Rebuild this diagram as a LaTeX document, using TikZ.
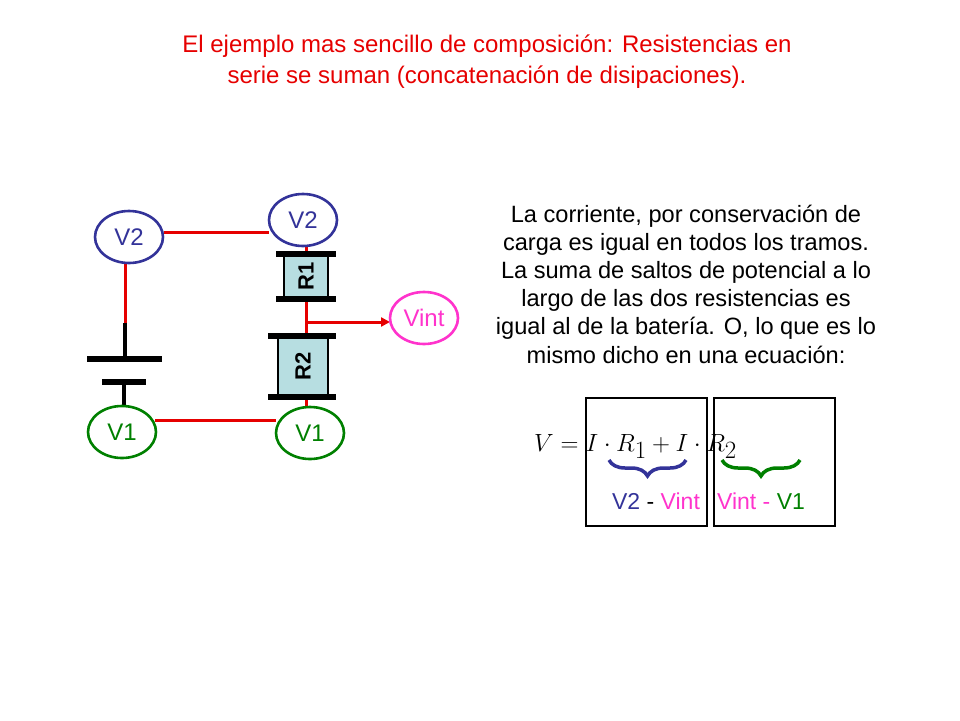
\documentclass[tikz,border=0pt]{standalone}
\usepackage{fontspec}
\setmainfont{Liberation Sans}
\usepackage{amsmath}
\usetikzlibrary{decorations.pathreplacing,arrows.meta,shapes.geometric}
\definecolor{tred}{RGB}{230,0,0}
\definecolor{vblue}{RGB}{51,51,153}
\definecolor{vgreen}{RGB}{0,128,0}
\definecolor{vmag}{RGB}{255,51,204}
\definecolor{rfill}{RGB}{183,222,225}
\begin{document}
\begin{tikzpicture}[x=1pt,y=-1pt,
  vnode/.style={ellipse,draw,line width=2.6pt,minimum width=68pt,minimum height=52pt,inner sep=0pt,font=\fontsize{24}{24}\selectfont},
  wire/.style={draw=tred,line width=3pt},
  plate/.style={line width=6pt},
  res/.style={draw=black,fill=rfill,line width=1.2pt,inner sep=0pt},
  brc/.style={decorate,decoration={brace,mirror,amplitude=16pt},line width=3.5pt}]
\useasboundingbox (0,0) rectangle (960,720);
\node[text=tred,align=center,font=\fontsize{24}{31}\selectfont] (title) at (487,62) {El ejemplo mas sencillo de composición: Resistencias en\\serie se suman (concatenación de disipaciones).};
\node[align=center,font=\fontsize{23.6}{28.2}\selectfont] (txt) at (686,284) {La corriente, por conservación de\\carga es igual en todos los tramos.\\La suma de saltos de potencial a lo\\largo de las dos resistencias es\\igual al de la batería. O, lo que es lo\\mismo dicho en una ecuación:};
% wires
\draw[wire] (164,232) coordinate (w1) -- (269,232) coordinate (w2);
\draw[wire] (125,263) coordinate (w3) -- (125,323) coordinate (w4);
\draw[line width=4.5pt] (w4) -- (125,359) coordinate (bat1);
\draw[plate] (87,359) -- (162,359);
\draw[plate] (102,382) coordinate (bat2) -- (146,382);
\draw[line width=4.5pt] (124,382) -- (124,406);
\draw[wire] (155,420) -- (276,420);
\draw[wire] (306,245) -- (306,254);
\draw[wire] (306,299) -- (306,336);
\draw[wire,-{Triangle[length=9pt,width=9pt]}] (306,322) -- (390,322);
\draw[wire] (306,397) -- (306,408);
% resistors
\node[res,minimum width=44pt,minimum height=45pt] (r1) at (306,276.5) {};
\node[rotate=90,font=\bfseries\fontsize{22}{22}\selectfont] at (r1) {R1};
\draw[plate] (276,254) -- (336,254);
\draw[plate] (276,299) -- (336,299);
\node[res,minimum width=50pt,minimum height=61pt] (r2) at (303,366.5) {};
\node[rotate=90,font=\bfseries\fontsize{22}{22}\selectfont] at (r2) {R2};
\draw[plate] (268,336) -- (336,336);
\draw[plate] (268,397) -- (336,397);
% voltage nodes
\node[vnode,draw=vblue,text=vblue,fill=white] (v2a) at (129,237) {V2};
\node[vnode,draw=vblue,text=vblue,fill=white] (v2b) at (303,220) {V2};
\node[vnode,draw=vgreen,text=vgreen,fill=white] (v1a) at (122,432) {V1};
\node[vnode,draw=vgreen,text=vgreen,fill=white] (v1b) at (310,433) {V1};
\node[vnode,draw=vmag,text=vmag,fill=white] (vint) at (424,318) {Vint};
% equation
\draw[line width=1.2pt] (586,398) rectangle (707,526);
\draw[line width=1.2pt] (714,398) rectangle (835,526);
\node[anchor=base west,inner sep=0pt,font=\fontsize{56}{56}\selectfont] (eq) at (534,451) {$V=I\cdot R_{1}+I\cdot R_{2}$};
\draw[brc,draw=vblue] (609,460) -- (686,460);
\draw[brc,draw=vgreen] (722,460) -- (800,460);
\node[anchor=base,font=\fontsize{23}{23}\selectfont] (l1) at (656,509) {\textcolor{vblue}{V2} - \textcolor{vmag}{Vint}};
\node[anchor=base,font=\fontsize{23}{23}\selectfont] (l2) at (761,509) {\textcolor{vmag}{Vint -} \textcolor{vgreen}{V1}};
\end{tikzpicture}
\end{document}
